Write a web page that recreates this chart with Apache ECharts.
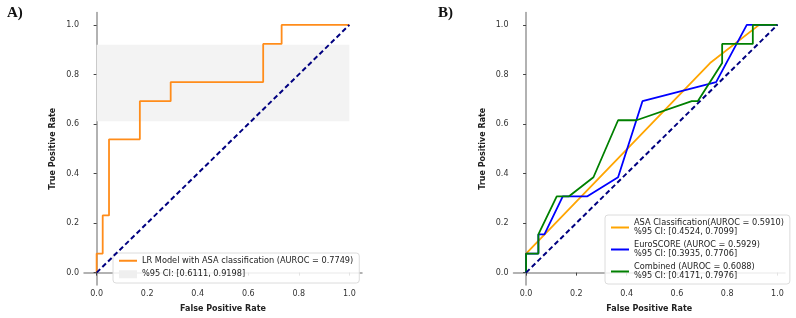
<!DOCTYPE html>
<html>
<head>
<meta charset="utf-8">
<script src="https://cdn.jsdelivr.net/npm/echarts@6/dist/echarts.min.js"></script>
<style>
  html, body { margin: 0; padding: 0; background: #fff; }
  #main { width: 796px; height: 318px; }
</style>
</head>
<body>
<div id="main"></div>
<script>
// tick labels shared by both panels
var tickValues = [0, 0.2, 0.4, 0.6, 0.8, 1.0];

// panel A: LR model ROC curve (step points)
var fprLR = [0, 0, 0.024, 0.024, 0.049, 0.049, 0.171, 0.171, 0.293, 0.293, 0.659, 0.659, 0.732, 0.732, 1];
var tprLR = [0, 0.077, 0.077, 0.231, 0.231, 0.538, 0.538, 0.692, 0.692, 0.769, 0.769, 0.923, 0.923, 1, 1];
var ciLR = [0.6111, 0.9198];

// panel B: ASA, EuroSCORE, combined
var fprAsa = [0, 0, 0.732, 0.927, 1];
var tprAsa = [0, 0.077, 0.846, 1, 1];
var fprEuro = [0, 0, 0.049, 0.049, 0.073, 0.146, 0.244, 0.366, 0.463, 0.756, 0.878, 1];
var tprEuro = [0, 0.077, 0.077, 0.154, 0.154, 0.308, 0.308, 0.385, 0.692, 0.769, 1, 1];
var fprComb = [0, 0, 0.049, 0.049, 0.122, 0.171, 0.268, 0.366, 0.439, 0.659, 0.683, 0.780, 0.780, 0.902, 0.902, 1];
var tprComb = [0, 0.077, 0.077, 0.154, 0.308, 0.308, 0.385, 0.615, 0.615, 0.692, 0.692, 0.846, 0.923, 0.923, 1, 1];

// chance line
var diagX = [0, 1];
var diagY = [0, 1];

var nameLR = 'LR Model with ASA classification (AUROC = 0.7749)';
var nameCI = '%95 CI: [0.6111, 0.9198]';
var nameAsa = 'ASA Classification(AUROC = 0.5910)\n%95 CI: [0.4524, 0.7099]';
var nameEuro = 'EuroSCORE (AUROC = 0.5929)\n%95 CI: [0.3935, 0.7706]';
var nameComb = 'Combined (AUROC = 0.6088)\n%95 CI: [0.4171, 0.7976]';

function pairs(xs, ys) {
	return xs.map(function(x, i){ return [x, ys[i]]; });
}

var FONT = 'DejaVu Sans';

function makeX(idx, max) {
	return {
		type: 'value', gridIndex: idx, min: -0.05, max: max,
		name: 'False Positive Rate', nameLocation: 'middle', nameGap: 20,
		nameTextStyle: { fontFamily: FONT, fontWeight: 'bold', fontSize: 8, color: '#222' },
		axisLine: { show: true, lineStyle: { color: '#999', width: 1.5 } },
		axisTick: { show: true, length: 3, customValues: tickValues, lineStyle: { color: '#444' } },
		axisLabel: { customValues: tickValues, fontFamily: FONT, fontSize: 8, color: '#333', margin: 5,
			formatter: function(v){ return v.toFixed(1); } },
		splitLine: { show: false }
	};
}

function makeY(idx) {
	return {
		type: 'value', gridIndex: idx, min: -0.05, max: 1.05,
		name: 'True Positive Rate', nameLocation: 'middle', nameGap: 27,
		nameTextStyle: { fontFamily: FONT, fontWeight: 'bold', fontSize: 8, color: '#222' },
		axisLine: { show: true, lineStyle: { color: '#999', width: 1.5 } },
		axisTick: { show: true, length: 3, customValues: tickValues, lineStyle: { color: '#444' } },
		axisLabel: { customValues: tickValues, fontFamily: FONT, fontSize: 8, color: '#333', margin: 5,
			formatter: function(v){ return v.toFixed(1); } },
		splitLine: { show: false }
	};
}

function lineSeries(name, idx, xs, ys, color, z) {
	return {
		name: name, type: 'line', xAxisIndex: idx, yAxisIndex: idx,
		data: pairs(xs, ys), showSymbol: false, symbol: 'none', z: z,
		lineStyle: { color: color, width: 1.8 }, itemStyle: { color: color },
		animation: false
	};
}

function diagSeries(idx) {
	return {
		name: 'chance', type: 'line', xAxisIndex: idx, yAxisIndex: idx,
		data: pairs(diagX, diagY), symbol: 'none', z: 5,
		lineStyle: { color: '#000080', width: 2, type: [5, 3] },
		animation: false
	};
}

var legendText = { fontFamily: FONT, fontSize: 8.2, lineHeight: 9.5, color: '#222' };

var chart = echarts.init(document.getElementById('main'), null, { renderer: 'canvas' });

var option = {
	backgroundColor: '#fff',
	animation: false,
	title: [
		{ text: 'A)', left: 2, top: 1, textStyle: { fontFamily: 'Liberation Serif', fontWeight: 'bold', fontSize: 15, color: '#111' } },
		{ text: 'B)', left: 433, top: 1, textStyle: { fontFamily: 'Liberation Serif', fontWeight: 'bold', fontSize: 15, color: '#111' } }
	],
	grid: [
		{ left: 84, right: 434, top: 12.5, bottom: 30.5 },
		{ left: 513.5, right: 11, top: 12.5, bottom: 30.5 }
	],
	xAxis: [makeX(0, 1.05), makeX(1, 1.03)],
	yAxis: [makeY(0), makeY(1)],
	legend: [
		{
			orient: 'vertical', left: 113, top: 253, itemWidth: 18, itemHeight: 8, itemGap: 4,
			padding: [3, 6, 4, 5], borderColor: '#dcdcdc', borderWidth: 1, borderRadius: 3,
			backgroundColor: 'rgba(255,255,255,0.85)', textStyle: legendText,
			itemStyle: { opacity: 0 },
			data: [nameLR, { name: nameCI, icon: 'rect', itemStyle: { opacity: 1, color: '#efefef' } }]
		},
		{
			orient: 'vertical', left: 605, top: 215, itemWidth: 18, itemHeight: 8, itemGap: 3,
			padding: [3, 6, 3, 5], borderColor: '#dcdcdc', borderWidth: 1, borderRadius: 3,
			backgroundColor: 'rgba(255,255,255,0.85)', textStyle: legendText,
			itemStyle: { opacity: 0 },
			data: [nameAsa, nameEuro, nameComb]
		}
	],
	series: [
		{
			name: nameCI, type: 'line', xAxisIndex: 0, yAxisIndex: 0, data: [], symbol: 'none',
			itemStyle: { color: '#efefef' }, lineStyle: { width: 0 },
			markArea: {
				silent: true, itemStyle: { color: '#f3f3f3' },
				data: [[{ coord: [0, ciLR[0]] }, { coord: [1, ciLR[1]] }]]
			}
		},
		lineSeries(nameLR, 0, fprLR, tprLR, '#ff8c1a', 3),
		diagSeries(0),
		lineSeries(nameAsa, 1, fprAsa, tprAsa, '#ffa500', 3),
		lineSeries(nameEuro, 1, fprEuro, tprEuro, '#0000ff', 3),
		lineSeries(nameComb, 1, fprComb, tprComb, '#008000', 4),
		diagSeries(1)
	]
};

chart.setOption(option);
</script>
</body>
</html>
